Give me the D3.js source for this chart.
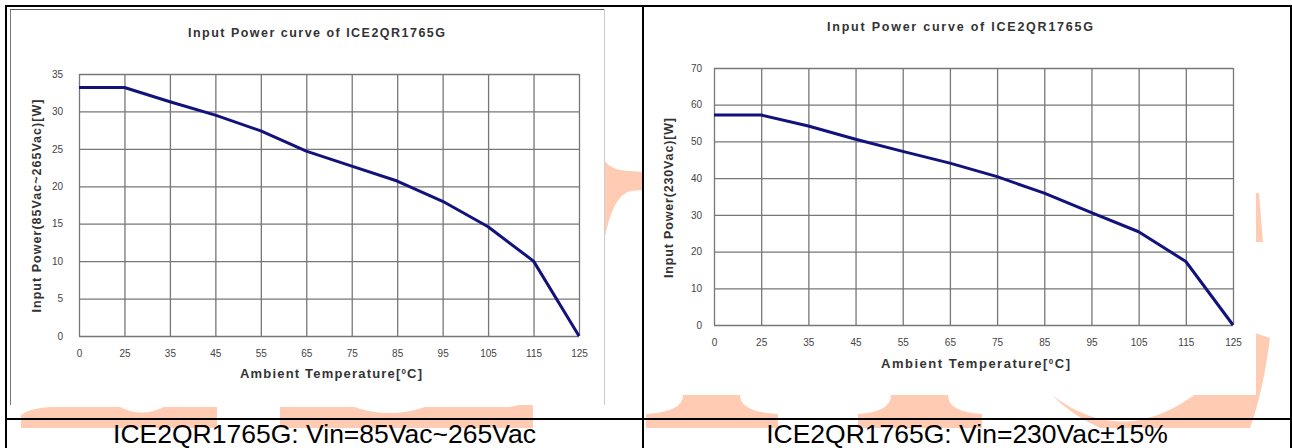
<!DOCTYPE html>
<html>
<head>
<meta charset="utf-8">
<script src="https://cdn.jsdelivr.net/npm/d3@7"></script>
<style>
  body { margin: 0; background: #fff; }
  svg { display: block; font-family: "Liberation Sans", Arial, sans-serif; }
</style>
</head>
<body>
<div id="chart"></div>
<script>
// temperature categories (x axis is categorical, equally spaced)
const tempLabels = ["0", "25", "35", "45", "55", "65", "75", "85", "95", "105", "115", "125"];
// input power
const power85to265 = [33.2, 33.2, 31.3, 29.5, 27.4, 24.7, 22.7, 20.7, 18.0, 14.6, 10.0, 0];
const power230 = [57.2, 57.2, 54.2, 50.6, 47.3, 44.1, 40.4, 35.9, 30.6, 25.4, 17.3, 0];
const ticks85 = [0, 5, 10, 15, 20, 25, 30, 35];
const ticks230 = [0, 10, 20, 30, 40, 50, 60, 70];
const captions = ["ICE2QR1765G: Vin=85Vac~265Vac", "ICE2QR1765G: Vin=230Vac\u00b115%"];

const W = 1292, H = 448;
const svg = d3.select("#chart").append("svg")
    .attr("width", W)
    .attr("height", H);

svg.append("rect").attr("width", W).attr("height", H).attr("fill", "#fff");

// faint orange watermark showing around the pasted chart images
const wm = "#ffccb3";
const wmShapes = [
    "M21,428 L21,415 Q30,408 50,407 L120,407 Q142,418 164,407 L217,407 L217,428 Z",
    "M280,428 L280,407 L354,407 Q390,419 425,407 L510,407 L533,402 L533,428 Z",
    "M604,160 Q612,171 630,171 L643,172 L643,190 L630,191 Q612,196 604,242 Z",
    "M646,428 L646,414 Q683,412 683,395 L740,395 Q740,412 778,414 L778,428 Z",
    "M858,428 L858,414 Q891,412 891,395 L948,395 Q948,412 982,414 L982,428 Z",
    "M1052,395 Q1150,470 1255,333 L1270,338 Q1263,392 1250,428 L1100,428 Q1070,414 1052,395 Z",
    "M1256,193 L1259,193 L1263,242 L1256,242 Z"
];
svg.append("g").selectAll("path").data(wmShapes).join("path")
    .attr("d", d => d)
    .attr("fill", wm);

// white backgrounds of the two chart images
svg.append("rect").attr("x", 10).attr("y", 9).attr("width", 594).attr("height", 396).attr("fill", "#fff");
svg.append("rect").attr("x", 644).attr("y", 6).attr("width", 612).attr("height", 389).attr("fill", "#fff");

// frame of left image
svg.append("line").attr("x1", 10.5).attr("x2", 10.5).attr("y1", 9).attr("y2", 405).attr("stroke", "#777");
svg.append("line").attr("x1", 10).attr("x2", 604).attr("y1", 9.5).attr("y2", 9.5).attr("stroke", "#555");
svg.append("line").attr("x1", 604.5).attr("x2", 604.5).attr("y1", 9).attr("y2", 405).attr("stroke", "#ccc");

function drawPanel(cfg) {
    const g = svg.append("g");
    const x = d3.scalePoint().domain(tempLabels).range([cfg.left, cfg.right]);
    const y = d3.scaleLinear().domain([0, d3.max(cfg.ticks)]).range([cfg.bottom, cfg.top]);

    // y grid + labels
    const yAxis = g.append("g")
        .attr("transform", `translate(${cfg.left},0)`)
        .call(d3.axisLeft(y).tickValues(cfg.ticks).tickSize(-(cfg.right - cfg.left)).tickPadding(cfg.yPad));
    // x grid + labels
    const xAxis = g.append("g")
        .attr("transform", `translate(0,${cfg.bottom})`)
        .call(d3.axisBottom(x).tickSize(-(cfg.bottom - cfg.top)).tickPadding(cfg.xPad));

    [yAxis, xAxis].forEach(a => {
        a.select(".domain").remove();
        a.selectAll(".tick line").attr("stroke", "#777").attr("stroke-width", 1.3);
        a.selectAll(".tick text")
            .attr("fill", "#444")
            .style("font-size", "10px");
    });

    // line
    const line = d3.line()
        .x((d, i) => x(tempLabels[i]))
        .y(d => y(d));
    g.append("path")
        .datum(cfg.values)
        .attr("fill", "none")
        .attr("stroke", "#12127c")
        .attr("stroke-width", 3)
        .attr("stroke-linejoin", "round")
        .attr("d", line);

    // title
    g.append("text")
        .attr("x", cfg.titleX)
        .attr("y", cfg.titleY)
        .attr("text-anchor", "middle")
        .attr("textLength", cfg.titleLen)
        .attr("lengthAdjust", "spacing")
        .attr("fill", "#333")
        .style("font-size", "12.5px")
        .style("font-weight", "bold")
        .text("Input Power curve of ICE2QR1765G");

    // x label
    const xl = g.append("text")
        .attr("x", cfg.xLabelX)
        .attr("y", cfg.xLabelY)
        .attr("text-anchor", "middle")
        .attr("textLength", cfg.xLabelLen)
        .attr("lengthAdjust", "spacing")
        .attr("fill", "#333")
        .style("font-size", "13px")
        .style("font-weight", "bold");
    xl.append("tspan").text("Ambient Temperature[");
    xl.append("tspan").attr("dy", -4).style("font-size", "8px").text("0");
    xl.append("tspan").attr("dy", 4).text("C]");

    // y label
    g.append("text")
        .attr("transform", `translate(${cfg.yLabelX},${cfg.yLabelY}) rotate(-90)`)
        .attr("text-anchor", "middle")
        .attr("textLength", cfg.yLabelLen)
        .attr("lengthAdjust", "spacing")
        .attr("fill", "#333")
        .style("font-size", "12.5px")
        .style("font-weight", "bold")
        .text(cfg.yLabel);
}

drawPanel({
    left: 79, right: 579, top: 74, bottom: 336,
    ticks: ticks85, values: power85to265, yPad: 16, xPad: 14,
    titleX: 316.5, titleY: 37, titleLen: 257,
    xLabelX: 331, xLabelY: 378, xLabelLen: 182,
    yLabelX: 41, yLabelY: 206, yLabelLen: 213,
    yLabel: "Input Power(85Vac~265Vac)[W]"
});

drawPanel({
    left: 714, right: 1233, top: 68, bottom: 325,
    ticks: ticks230, values: power230, yPad: 12, xPad: 14,
    titleX: 960, titleY: 31, titleLen: 266,
    xLabelX: 975.5, xLabelY: 368, xLabelLen: 189,
    yLabelX: 673, yLabelY: 198, yLabelLen: 160,
    yLabel: "Input Power(230Vac)[W]"
});

// table borders
const border = svg.append("g").attr("stroke", "#000").attr("stroke-width", 2);
border.append("line").attr("x1", 5).attr("x2", W).attr("y1", 6).attr("y2", 6);
border.append("line").attr("x1", 5).attr("x2", W).attr("y1", 419).attr("y2", 419);
border.append("line").attr("x1", 6).attr("x2", 6).attr("y1", 5).attr("y2", H);
border.append("line").attr("x1", 643).attr("x2", 643).attr("y1", 5).attr("y2", H);
border.append("line").attr("x1", 1291).attr("x2", 1291).attr("y1", 5).attr("y2", H);

// captions
svg.append("g").selectAll("text").data(captions).join("text")
    .attr("x", (d, i) => i === 0 ? 324.5 : 967)
    .attr("y", 443)
    .attr("text-anchor", "middle")
    .attr("fill", "#000")
    .style("font-size", "26.5px")
    .text(d => d);
</script>
</body>
</html>
